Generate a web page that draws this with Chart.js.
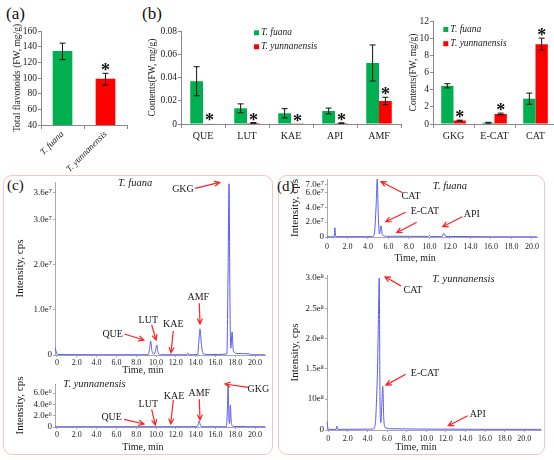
<!DOCTYPE html>
<html>
<head>
<meta charset="utf-8">
<script src="https://cdn.jsdelivr.net/npm/chart.js@4.4.1/dist/chart.umd.min.js"></script>
<style>
  body { margin:0; width:554px; height:460px; overflow:hidden; background:#fff; position:relative;
         font-family:'Liberation Serif','DejaVu Serif',serif; }
  .box { position:absolute; border:1px solid #f3c6c6; border-radius:9px; }
  .tag { position:absolute; color:#111; line-height:1; }
  canvas { position:absolute; }
</style>
</head>
<body>
<div class="box" style="left:3px;top:175px;width:268px;height:278px"></div>
<div class="box" style="left:278px;top:175px;width:265px;height:278px"></div>
<div class="tag" style="left:6px;top:5px;font-size:17px">(a)</div>
<div class="tag" style="left:142px;top:5px;font-size:17px">(b)</div>
<div class="tag" style="left:7px;top:178px;font-size:15px">(c)</div>
<div class="tag" style="left:277px;top:179px;font-size:15px">(d)</div>
<script>
// ---- data ----
const species = ['T. fuana', 'T. yunnanensis'];

// (a) total flavonoids
const aCategories = ['T. fuana', 'T. yunnanensis'];
const aTotals = [134, 98.5];
const aErrors = [10.5, 7.5];
const aStars = [false, true];

// (b) left: minor flavonoids
const bCategories = ['QUE', 'LUT', 'KAE', 'API', 'AMF'];
const bFuana = [0.0368, 0.0135, 0.0092, 0.0112, 0.0525];
const bFuanaErr = [0.0125, 0.0038, 0.004, 0.0025, 0.0155];
const bYunnan = [0.0005, 0.0009, 0.0002, 0.0008, 0.0198];
const bYunnanErr = [0, 0.0003, 0, 0.0002, 0.0032];
const bStars = [true, true, true, true, true];

// (b) right: major flavonoids
const b2Categories = ['GKG', 'E-CAT', 'CAT'];
const b2Fuana = [4.45, 0.15, 2.95];
const b2FuanaErr = [0.25, 0.05, 0.65];
const b2Yunnan = [0.4, 1.17, 9.3];
const b2YunnanErr = [0.05, 0.1, 0.7];
const b2Stars = [true, true, true];

// chromatograms: [time (min), intensity (cps)]
const cFuanaTrace = [[-0.2,1.6e6],[0.05,0.1e6],[9.2,0.05e6],[9.35,1.4e6],[9.46,3.1e6],[9.58,1.0e6],[9.8,0.15e6],
  [9.95,1.0e6],[10.07,2.2e6],[10.2,0.6e6],[10.45,0.05e6],[13.1,0.05e6],[13.2,0.45e6],[13.3,0.05e6],[14.2,0.1e6],
  [14.33,3.2e6],[14.44,5.8e6],[14.56,2.8e6],[14.75,0.3e6],[15.4,0.1e6],[17.15,0.2e6],[17.27,1.8e7],[17.37,3.8e7],
  [17.47,1.0e7],[17.55,1.5e6],[17.68,5.1e6],[17.8,1.0e6],[18.1,0.35e6],[19.4,0.25e6],[19.6,0.05e6],[21.0,0.05e6]];
const cYunTrace = [[-0.2,0.05e6],[14.15,0.05e6],[14.27,0.6e6],[14.35,1.1e6],[14.45,0.5e6],[14.6,0.05e6],[17.1,0.05e6],
  [17.2,3.0e6],[17.27,7.4e6],[17.35,2.0e6],[17.42,0.6e6],[17.5,3.9e6],[17.6,0.8e6],[17.8,0.1e6],[21.0,0.05e6]];
const dFuanaTrace = [[0,0.02e7],[0.7,0.02e7],[0.77,1.25e7],[0.85,0.05e7],[4.45,0.05e7],[4.65,0.8e7],[4.8,4.5e7],
  [4.9,7.8e7],[5.0,3.0e7],[5.12,0.4e7],[5.27,1.5e7],[5.4,0.3e7],[5.8,0.1e7],[9.9,0.08e7],[10.0,0.2e7],[10.1,0.08e7],
  [11.2,0.05e7],[11.4,0.5e7],[11.6,0.08e7],[20.49,0.02e7]];
const dYunTrace = [[-0.13,0.27e8],[0.0,0.02e8],[0.8,0.02e8],[0.88,0.13e8],[0.96,0.02e8],[4.55,0.03e8],[4.8,0.2e8],
  [4.97,1.2e8],[5.05,1.68e8],[5.12,2.4e8],[5.2,3.0e8],[5.28,1.0e8],[5.36,0.23e8],[5.46,0.8e8],[5.56,1.21e8],
  [5.66,0.4e8],[5.8,0.08e8],[6.5,0.04e8],[9.0,0.03e8],[21.71,0.02e8]];

// tick labels
const timeTicks = [0, 2, 4, 6, 8, 10, 12, 14, 16, 18, 20];
const cTopTicks = [0, 1e7, 2e7, 3e7, 3.6e7];
const cTopTickLabels = ['0', '1.0e\u2077', '2.0e\u2077', '3.0e\u2077', '3.6e\u2077'];
const cBotTicks = [0, 2e6, 4e6, 6e6];
const cBotTickLabels = ['0', '2.0e\u2076', '4.0e\u2076', '6.0e\u2076'];
const dTopTicks = [0, 2e7, 4e7, 6e7, 7e7];
const dTopTickLabels = ['0', '2.0e\u2077', '4.0e\u2077', '6.0e\u2077', '7.0e\u2077'];
const dBotTicks = [0, 1e8, 1.5e8, 2e8, 2.5e8, 3e8];
const dBotTickLabels = ['0', '10e\u2078', '1.5e\u2078', '2.0e\u2078', '2.5e\u2078', '3.0e\u2078'];

// ---- annotations (data coordinates) ----
const ITALIC = "italic 10.5px 'Liberation Serif'";
const cFuanaNotes = [
  {text:'T. fuana', at:[7.88, 3.82e7], font:ITALIC},
  {text:'GKG', at:[12.72, 3.685e7], from:[13.95, 3.70e7], to:[16.43, 3.83e7]},
  {text:'QUE', at:[5.62, 4.66e6], from:[6.8, 4.66e6], to:[8.78, 3.33e6]},
  {text:'LUT', at:[9.22, 7.77e6], from:[9.56, 6.66e6], to:[10.0, 3.33e6]},
  {text:'KAE', at:[11.74, 6.88e6], from:[11.74, 5.33e6], to:[11.51, 0.5e6]},
  {text:'AMF', at:[14.27, 1.28e7], from:[14.37, 1.15e7], to:[14.44, 6.9e6]},
  {text:'Time, min', at:[8.68, -3.33e6]}
];
const cYunNotes = [
  {text:'T. yunnanensis', at:[0.64, 7.55e6], align:'left', font:ITALIC},
  {text:'QUE', at:[5.52, 1.71e6], from:[6.77, 1.36e6], to:[8.78, 0.53e6]},
  {text:'LUT', at:[9.22, 4.0e6], from:[9.56, 3.13e6], to:[9.93, 0.35e6]},
  {text:'KAE', at:[11.81, 5.48e6], from:[11.74, 4.77e6], to:[11.48, 0.53e6]},
  {text:'AMF', at:[14.37, 5.95e6], from:[14.37, 4.9e6], to:[14.44, 1.24e6]},
  {text:'GKG', at:[20.32, 6.71e6], from:[19.31, 7.01e6], to:[16.96, 7.6e6]},
  {text:'Time, min', at:[8.68, -3.53e6]}
];
const dFuanaNotes = [
  {text:'T. fuana', at:[12.0, 6.86e7], font:ITALIC},
  {text:'CAT', at:[8.2, 5.42e7], from:[7.38, 5.96e7], to:[5.27, 7.44e7]},
  {text:'E-CAT', at:[9.56, 3.4e7], from:[7.68, 3.32e7], to:[5.73, 2.06e7]},
  {from:[8.75, 1.98e7], to:[6.8, 0.58e7]},
  {text:'API', at:[14.12, 3.05e7], from:[13.2, 2.73e7], to:[11.29, 1.39e7]},
  {text:'Time, min', at:[8.59, -2.82e7]}
];
const dYunNotes = [
  {text:'T. yunnanensis', at:[13.79, 2.98e8], font:ITALIC},
  {text:'CAT', at:[8.65, 2.80e8], from:[7.42, 2.87e8], to:[5.79, 3.02e8]},
  {text:'E-CAT', at:[9.87, 1.42e8], from:[7.9, 1.41e8], to:[5.89, 1.23e8]},
  {text:'API', at:[15.25, 0.52e8], from:[14.23, 0.46e8], to:[12.25, 0.14e8]},
  {text:'Time, min', at:[8.95, -0.548e8]}
];

// ---- styling ----
const GREEN = '#00b050', RED = '#ff0000', TRACE = '#5a5af5', ARROW = '#ff2020';
const INK = '#1a1a1a', AXIS = '#8a8a8a', AXIS2 = '#a8a8a8';
Chart.defaults.font.family = "'Liberation Serif', 'DejaVu Serif', serif";
Chart.defaults.color = INK;

// y axis whose lower part (0 .. 1e8) is squeezed, as in the lower (d) chromatogram
class BrokenLinearScale extends Chart.LinearScale {
  static id = 'brokenLinear';
  static defaults = {};
  getPixelForValue(value) {
    const k = this.options.knots || [];
    let a = value;
    for (let i = 1; i < k.length; i++) {
      if (value <= k[i][0]) { a = k[i-1][1] + (value - k[i-1][0]) * (k[i][1] - k[i-1][1]) / (k[i][0] - k[i-1][0]); break; }
    }
    return super.getPixelForValue(a);
  }
}
Chart.register(BrokenLinearScale);

// canvas placed so the plot area lands on the given page box
function mount(p, g) {
  const c = document.createElement('canvas');
  c.width = p.r - p.l + g.yW + g.padR;
  c.height = p.b - p.t + g.padT + g.xH;
  c.style.left = (p.l - g.yW) + 'px';
  c.style.top = (p.t - g.padT) + 'px';
  document.body.appendChild(c);
  return c;
}
const fixY = w => s => { s.width = w; s.paddingTop = 0; s.paddingBottom = 0; };
const fixX = h => s => { s.height = h; s.paddingLeft = 0; s.paddingRight = 0; };
const setTicks = list => s => { s.ticks = list.map(value => ({value})); };

const errorBars = {
  id: 'errorBars',
  afterDatasetsDraw(chart) {
    const ctx = chart.ctx, y = chart.scales.y;
    ctx.save();
    chart.data.datasets.forEach((ds, i) => {
      chart.getDatasetMeta(i).data.forEach((bar, j) => {
        const v = ds.data[j], e = (ds.errors || [])[j] || 0;
        const top = y.getPixelForValue(v + e);
        if (e > 0) {
          const bot = y.getPixelForValue(v - e);
          ctx.strokeStyle = '#111'; ctx.lineWidth = 1;
          ctx.beginPath();
          ctx.moveTo(bar.x, top); ctx.lineTo(bar.x, bot);
          ctx.moveTo(bar.x - 3, top); ctx.lineTo(bar.x + 3, top);
          ctx.moveTo(bar.x - 3, bot); ctx.lineTo(bar.x + 3, bot);
          ctx.stroke();
        }
        if ((ds.stars || [])[j]) {
          ctx.fillStyle = '#111'; ctx.font = "bold 18px 'Liberation Serif'";
          ctx.textAlign = 'center'; ctx.textBaseline = 'alphabetic';
          ctx.fillText('*', bar.x, top + 3);
        }
      });
    });
    ctx.restore();
  }
};

function cornerLegend(dx, dy, gap) {
  return {
    id: 'cornerLegend',
    afterDraw(chart) {
      const {ctx, chartArea: a} = chart;
      ctx.save();
      chart.data.datasets.forEach((ds, i) => {
        const y = a.top + dy + i * gap;
        ctx.fillStyle = ds.backgroundColor;
        ctx.fillRect(a.left + dx, y - 2.5, 5, 5);
        ctx.fillStyle = INK; ctx.font = "italic 9.5px 'Liberation Serif'";
        ctx.textAlign = 'left'; ctx.textBaseline = 'middle';
        ctx.fillText(ds.label, a.left + dx + 7, y);
      });
      ctx.restore();
    }
  };
}

function notesPlugin(notes) {
  return {
    id: 'notes',
    afterDraw(chart) {
      const {ctx, scales: {x, y}} = chart;
      ctx.save();
      notes.forEach(n => {
        if (n.from) {
          const x0 = x.getPixelForValue(n.from[0]), y0 = y.getPixelForValue(n.from[1]);
          const x1 = x.getPixelForValue(n.to[0]), y1 = y.getPixelForValue(n.to[1]);
          const ang = Math.atan2(y1 - y0, x1 - x0);
          ctx.strokeStyle = ARROW; ctx.lineWidth = 1.2;
          ctx.beginPath();
          ctx.moveTo(x0, y0); ctx.lineTo(x1, y1);
          ctx.moveTo(x1 - 6 * Math.cos(ang - 0.45), y1 - 6 * Math.sin(ang - 0.45));
          ctx.lineTo(x1, y1);
          ctx.lineTo(x1 - 6 * Math.cos(ang + 0.45), y1 - 6 * Math.sin(ang + 0.45));
          ctx.stroke();
        }
        if (n.text) {
          ctx.font = n.font || "10px 'Liberation Serif'";
          ctx.fillStyle = INK;
          ctx.textAlign = n.align || 'center'; ctx.textBaseline = 'middle';
          ctx.fillText(n.text, x.getPixelForValue(n.at[0]), y.getPixelForValue(n.at[1]));
        }
      });
      ctx.restore();
    }
  };
}

function barChart(p, g, labels, datasets, y, extraPlugins, xTicks) {
  return new Chart(mount(p, g), {
    type: 'bar',
    data: {labels, datasets},
    options: {
      animation: false, responsive: false,
      layout: {padding: {top: g.padT, right: g.padR, left: 0, bottom: 0}},
      plugins: {legend: {display: false}, tooltip: {enabled: false}},
      scales: {
        x: Object.assign({
          afterFit: fixX(g.xH),
          grid: {drawOnChartArea: false, tickLength: 4, color: AXIS},
          border: {color: AXIS}
        }, xTicks),
        y: {
          min: y.min, max: y.max, afterFit: fixY(g.yW),
          ticks: {stepSize: y.step, font: {size: 9.5}, padding: 1, autoSkip: false, callback: y.fmt},
          grid: {drawOnChartArea: false, tickLength: 3, color: AXIS},
          border: {color: AXIS},
          title: {display: true, text: y.title, font: {size: 9.5}, padding: {top: y.titlePad, bottom: 0}}
        }
      }
    },
    plugins: [errorBars].concat(extraPlugins)
  });
}

function traceChart(p, g, trace, xr, y, notes) {
  return new Chart(mount(p, g), {
    type: 'line',
    data: {datasets: [{
      data: trace.map(([t, v]) => ({x: t, y: v})),
      borderColor: TRACE, borderWidth: 1, pointRadius: 0, cubicInterpolationMode: 'monotone', clip: 2
    }]},
    options: {
      animation: false, responsive: false,
      layout: {padding: {top: g.padT, right: g.padR, left: 0, bottom: 0}},
      plugins: {legend: {display: false}, tooltip: {enabled: false}},
      scales: {
        x: {
          type: 'linear', min: xr.min, max: xr.max, afterFit: fixX(g.xH), afterBuildTicks: setTicks(timeTicks),
          ticks: {callback: v => v === 0 ? '0' : v.toFixed(1), font: {size: 8}, padding: xr.pad, maxRotation: 0, autoSkip: false},
          grid: {drawOnChartArea: false, tickLength: 2, color: AXIS2},
          border: {color: AXIS2}
        },
        y: Object.assign({
          type: 'linear', afterFit: fixY(g.yW), afterBuildTicks: setTicks(y.ticks),
          ticks: {callback: (v, i) => y.labels[i], font: {size: 9}, padding: 1, autoSkip: false},
          grid: {drawOnChartArea: false, tickLength: 2, color: AXIS2},
          border: {color: AXIS2},
          title: {display: true, text: 'Intensity, cps', font: {size: 11}, padding: {top: y.titlePad, bottom: 0}}
        }, y.scale)
      }
    },
    plugins: [notesPlugin(notes)]
  });
}

// (a)
barChart({l: 41, r: 127, t: 31, b: 125}, {yW: 41, padT: 8, padR: 6, xH: 50}, aCategories,
  [{data: aTotals, errors: aErrors, stars: aStars, backgroundColor: [GREEN, RED], borderWidth: 0, barThickness: 19}],
  {min: 40, max: 160, step: 20, title: 'Total flavonoids (FW, mg/g)', titlePad: 11.3},
  [], {ticks: {minRotation: 45, maxRotation: 45, padding: 0, font: {size: 9, style: 'italic'}}});

// (b) left
barChart({l: 181, r: 401, t: 31, b: 124}, {yW: 41, padT: 8, padR: 4, xH: 24}, bCategories, [
  {label: species[0], data: bFuana, errors: bFuanaErr, backgroundColor: GREEN, borderWidth: 0, categoryPercentage: 0.58, barPercentage: 1},
  {label: species[1], data: bYunnan, errors: bYunnanErr, stars: bStars, backgroundColor: RED, borderWidth: 0, categoryPercentage: 0.58, barPercentage: 1}
], {min: 0, max: 0.08, step: 0.02, fmt: v => v === 0 ? '0' : v.toFixed(2), title: 'Contents(FW, mg/g)', titlePad: 7},
  [cornerLegend(73, 1.8, 14)], {ticks: {padding: 2, font: {size: 10}}});

// (b) right
barChart({l: 433, r: 556, t: 21, b: 124}, {yW: 30, padT: 8, padR: 0, xH: 24}, b2Categories, [
  {label: species[0], data: b2Fuana, errors: b2FuanaErr, backgroundColor: GREEN, borderWidth: 0, categoryPercentage: 0.6, barPercentage: 1},
  {label: species[1], data: b2Yunnan, errors: b2YunnanErr, stars: b2Stars, backgroundColor: RED, borderWidth: 0, categoryPercentage: 0.6, barPercentage: 1}
], {min: 0, max: 12, step: 2, title: 'Contents(FW, mg/g)', titlePad: 4.3},
  [cornerLegend(10.3, 8.5, 14.2)], {ticks: {padding: 2, font: {size: 10}}});

// (c) chromatograms
traceChart({l: 55, r: 265, t: 182, b: 355}, {yW: 50, padT: 8, padR: 6, xH: 21}, cFuanaTrace,
  {min: -0.2, max: 21.0, pad: 1},
  {scale: {min: 0, max: 3.84e7}, ticks: cTopTicks, labels: cTopTickLabels, titlePad: 8.4}, cFuanaNotes);
traceChart({l: 55, r: 265, t: 384, b: 427}, {yW: 50, padT: 8, padR: 6, xH: 27}, cYunTrace,
  {min: -0.2, max: 21.0, pad: 1},
  {scale: {min: 0, max: 7.6e6}, ticks: cBotTicks, labels: cBotTickLabels, titlePad: 8.4}, cYunNotes);

// (d) chromatograms
traceChart({l: 327, r: 537, t: 179, b: 237}, {yW: 45, padT: 8, padR: 6, xH: 27}, dFuanaTrace,
  {min: 0, max: 20.49, pad: 3},
  {scale: {min: 0, max: 7.8e7}, ticks: dTopTicks, labels: dTopTickLabels, titlePad: 6.4}, dFuanaNotes);
traceChart({l: 327, r: 541, t: 275, b: 430}, {yW: 45, padT: 12, padR: 2, xH: 23}, dYunTrace,
  {min: -0.13, max: 21.71, pad: 2},
  {scale: {type: 'brokenLinear', min: 0.488e8, max: 3.05e8, knots: [[0, 0.488e8], [1e8, 1e8]]},
   ticks: dBotTicks, labels: dBotTickLabels, titlePad: 6.4}, dYunNotes);
</script>
</body>
</html>
